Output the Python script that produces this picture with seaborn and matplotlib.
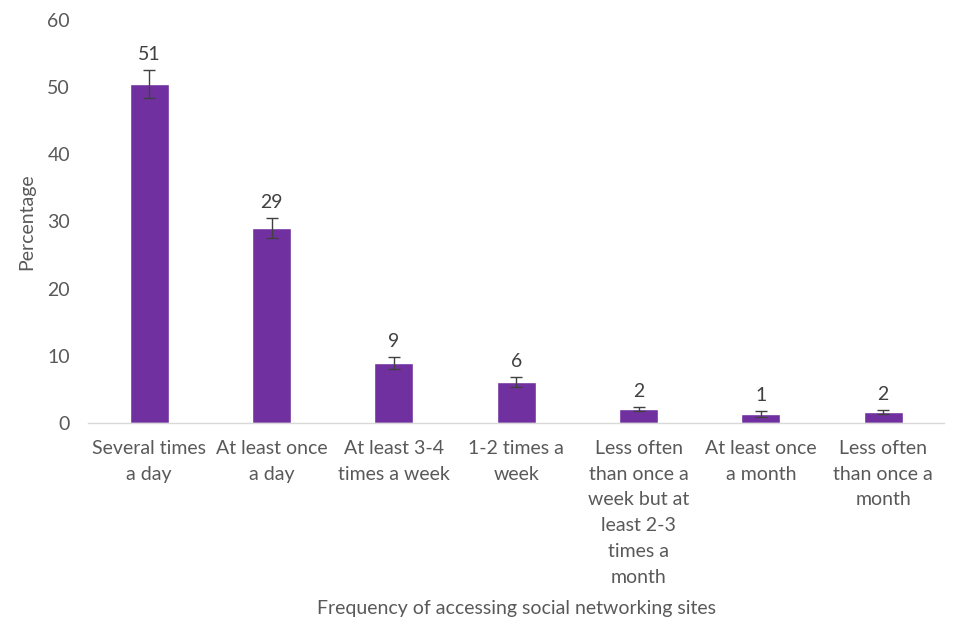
import numpy as np
import pandas as pd
import matplotlib
matplotlib.use("Agg")
import matplotlib.pyplot as plt
import seaborn as sns

# data
categories = ["Several times\na day", "At least once\na day", "At least 3-4\ntimes a week",
              "1-2 times a\nweek", "Less often\nthan once a\nweek but at\nleast 2-3\ntimes a\nmonth",
              "At least once\na month", "Less often\nthan once a\nmonth"]
values = [50.5, 29.0, 8.9, 6.1, 2.1, 1.35, 1.65]
errors = [2.1, 1.5, 0.9, 0.7, 0.35, 0.4, 0.35]
labels = ["51", "29", "9", "6", "2", "1", "2"]

df = pd.DataFrame({"freq": categories, "pct": values})

sns.set_theme(style="white")
plt.rcParams['font.family'] = ['Lato', 'DejaVu Sans']
grey = "#595959"

fig = plt.figure(figsize=(9.6, 6.4), dpi=100)
ax = fig.add_axes([0.0917, 0.339, 0.892, 0.630])

sns.barplot(data=df, x="freq", y="pct", color="#7030A0", width=0.32,
            saturation=1, ax=ax)
x = np.arange(len(categories))
ax.errorbar(x, values, yerr=errors, fmt="none", ecolor="#404040",
            elinewidth=1, capsize=4, capthick=1)

for xi, v, e, lab in zip(x, values, errors, labels):
    ax.annotate(lab, (xi, v + e), xytext=(0, 5), textcoords="offset points",
                ha="center", va="bottom", fontsize=14, color="#404040")

ax.set_ylim(0, 60)
ax.set_xlim(-0.5, len(categories) - 0.5)
ax.set_yticks(range(0, 61, 10))
ax.tick_params(axis="both", length=0, labelsize=14, colors=grey)
ax.tick_params(axis="y", pad=13)
ax.tick_params(axis="x", pad=12)
ax.set_xticks(x)
ax.set_xticklabels(categories, linespacing=1.63)
for s in ["top", "right", "left"]:
    ax.spines[s].set_visible(False)
ax.spines["bottom"].set_color("#D9D9D9")
ax.spines["bottom"].set_linewidth(1)

ax.set_ylabel("Percentage", fontsize=14, color=grey)
ax.set_xlabel("Frequency of accessing social networking sites", fontsize=14, color=grey)
ax.yaxis.set_label_coords(-0.062, 0.5)
ax.xaxis.set_label_coords(0.5, -0.44)

plt.savefig("out.png", dpi=100)
